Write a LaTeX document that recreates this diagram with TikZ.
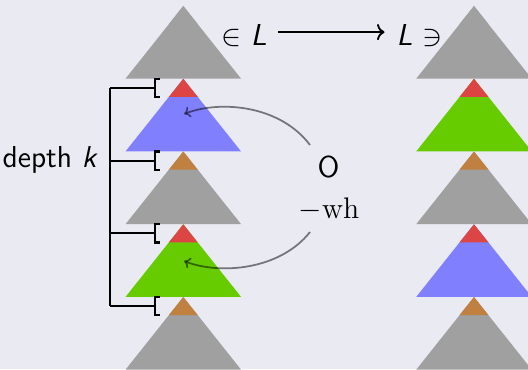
\documentclass[tikz,border=0pt]{standalone}
\usepackage{fontspec}
\usetikzlibrary{arrows.meta}
\definecolor{bg}{RGB}{234,234,243}
\definecolor{tgray}{RGB}{160,160,160}
\definecolor{tred}{RGB}{221,68,68}
\definecolor{tbrown}{RGB}{191,128,64}
\definecolor{tblue}{RGB}{128,128,255}
\definecolor{tgreen}{RGB}{102,204,0}
\newcommand{\mytri}[4]{% x, apex y, top colour, bottom colour
  \fill[#4] (#1,#2) -- (#1+57.8,#2+72.7) -- (#1-57.8,#2+72.7) -- cycle;
  \fill[#3] (#1,#2) -- (#1+14.45,#2+18.2) -- (#1-14.45,#2+18.2) -- cycle;}
\newcommand{\mybrk}[2]{% name, apex y
  \draw[brk] (160,#2) -- (155,#2) -- (155,#2+18.2) -- (160,#2+18.2);
  \coordinate (#1) at (155,#2+9.1);}
\tikzset{
  brk/.style={line width=0.85pt},
  lbl/.style={inner sep=0pt, font=\fontsize{12.1}{15}\selectfont\sffamily},
  curvarrow/.style={black, opacity=0.5, line width=0.7pt, -{To[length=2.5pt,width=4.5pt]}}
}
\begin{document}
\begin{tikzpicture}[x=0.4pt,y=-0.4pt]
\fill[bg] (0,0) rectangle (528,369);
\useasboundingbox (0,0) rectangle (528,369);
\begin{scope}
\clip (0,0) rectangle (528,369);
% left column
\mytri{183.3}{6}{tgray}{tgray}
\mytri{183.3}{78.75}{tred}{tblue}
\mytri{183.3}{151.5}{tbrown}{tgray}
\mytri{183.3}{224.25}{tred}{tgreen}
\mytri{183.3}{297}{tbrown}{tgray}
% right column
\mytri{474}{6}{tgray}{tgray}
\mytri{474}{78.75}{tred}{tgreen}
\mytri{474}{151.5}{tbrown}{tgray}
\mytri{474}{224.25}{tred}{tblue}
\mytri{474}{297}{tbrown}{tgray}
\end{scope}
% brackets
\mybrk{b1}{78.75}
\mybrk{b2}{151.5}
\mybrk{b3}{224.25}
\mybrk{b4}{297}
\coordinate (v1) at (110,87.85);
\coordinate (v4) at (110,306.1);
\draw[brk] (v1) -- (v4);
\draw[brk] (v1) -- (b1);
\draw[brk] (110,160.6) -- (b2);
\draw[brk] (110,233.35) -- (b3);
\draw[brk] (v4) -- (b4);
\node[lbl, anchor=base east] (depth) at (98.5,167) {depth \textit{k}};
% top labels
\node[lbl, anchor=base west] (inL) at (220.5,45) {$\in$ \textit{L}};
\node[lbl, anchor=base west] (Lni) at (396,45) {\textit{L} $\ni$};
\draw[line width=0.75pt, -{To[length=3pt,width=6.5pt]}] ([xshift=4.4pt,yshift=1.2pt]inL.east) -- ([xshift=-4.6pt,yshift=1.2pt]Lni.west);
% middle labels
\node[lbl, anchor=base] (O) at (328.5,177) {O};
\node[inner sep=0pt, anchor=base, font=\fontsize{11.9}{14}\selectfont] (wh) at (329,218.5) {$-\mathrm{wh}$};
\coordinate (s1) at (310,145);
\coordinate (e1) at (184,114);
\coordinate (s2) at (310,232);
\coordinate (e2) at (184,261);
\draw[curvarrow] (s1) .. controls (280,105) and (220,100) .. (e1);
\draw[curvarrow] (s2) .. controls (280,270) and (220,275) .. (e2);
\end{tikzpicture}
\end{document}
